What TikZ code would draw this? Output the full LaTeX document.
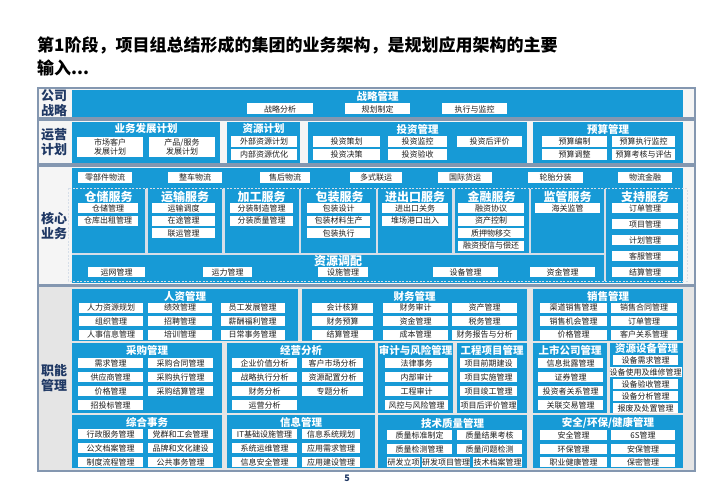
\documentclass[tikz,border=0pt]{standalone}
\usepackage{fontspec}
\setmainfont{Noto Sans CJK SC}
\definecolor{skyblu}{RGB}{23,154,214}
\definecolor{frmline}{RGB}{132,151,176}
\definecolor{lblcol}{RGB}{31,56,100}
\definecolor{itmtxt}{RGB}{30,30,30}
\definecolor{sepcol}{RGB}{214,222,232}

\begin{document}
\begin{tikzpicture}[x=1pt,y=-1pt,
  frm/.style={draw=frmline, line width=1.2pt, fill=gray!8},
  blk/.style={fill=skyblu},
  ttl/.style={text=white, font=\bfseries\fontsize{10.5}{11}\selectfont, inner sep=0pt},
  sttl/.style={text=white, font=\bfseries\fontsize{12}{12}\selectfont, inner sep=0pt},
  itm/.style={fill=white, text=itmtxt, font=\fontsize{8}{8.8}\selectfont, inner sep=0pt, minimum height=10, align=center},
  lbl/.style={text=lblcol, font=\bfseries\fontsize{13}{15}\selectfont, align=center, inner sep=0pt},
  sep/.style={draw=sepcol, line width=2.5pt},
  dsh/.style={draw=sepcol, line width=1pt, dash pattern=on 2pt off 1.5pt}]
\useasboundingbox (0,0) rectangle (722,500);

% heading
\node[anchor=west, align=left, inner sep=0pt, font=\bfseries\fontsize{17}{23}\selectfont] (head) at (37,56.5)
  {第1阶段，项目组总结形成的集团的业务架构，是规划应用架构的主要\\输入...};

% company strategy
\draw[frm] (38,88) rectangle (695,118);
\node[lbl] (lb1) at (54,103) {公司\\战略};
\fill[blk] (72,90) rectangle (683,117);
\node[ttl] (stg) at (377.5,96.5) {战略管理};
\foreach \cx/\cy/\w/\txt [count=\i] in {280/109/66/战略分析, 377.5/109/65/规划制定, 474.5/109/65/执行与监控}
  \node[itm, minimum width=\w, minimum height=11] (stg\i) at (\cx,\cy) {\txt};

% operation planning
\draw[frm] (38,120) rectangle (695,164);
\node[lbl] (lb2) at (54,142) {运营\\计划};
\fill[blk] (72,122) rectangle (220,163);
\node[ttl] (bdp) at (146,129) {业务发展计划};
\foreach \cx/\cy/\w/\txt [count=\i] in {110/147/66/{市场客户\\发展计划}, 182/147/66/{产品/服务\\发展计划}}
  \node[itm, minimum width=\w, minimum height=20] (bdp\i) at (\cx,\cy) {\txt};
\fill[blk] (227,122) rectangle (300,163);
\node[ttl] (rsp) at (263.5,129) {资源计划};
\foreach \cx/\cy/\w/\txt [count=\i] in {264/141/66/外部资源计划, 264/154.5/66/内部资源优化}
  \node[itm, minimum width=\w, minimum height=11] (rsp\i) at (\cx,\cy) {\txt};
\fill[blk] (308,122) rectangle (527,163);
\node[ttl] (inv) at (417.5,129) {投资管理};
\foreach \cx/\cy/\w/\txt [count=\i] in {346.5/141/67/投资策划, 417.5/141/59/投资监控, 489.5/141/65/投资后评价,
    346.5/154.5/67/投资决策, 417.5/154.5/59/投资验收}
  \node[itm, minimum width=\w, minimum height=11] (inv\i) at (\cx,\cy) {\txt};
\fill[blk] (533,122) rectangle (683,163);
\node[ttl] (bud) at (608,129) {预算管理};
\foreach \cx/\cy/\w/\txt [count=\i] in {574.5/141/65/预算编制, 643.5/141/63/预算执行监控,
    574.5/154.5/65/预算调整, 643.5/154.5/63/预算考核与评估}
  \node[itm, minimum width=\w, minimum height=11] (bud\i) at (\cx,\cy) {\txt};

% core business
\draw[frm] (38,166) rectangle (695,285);
\node[lbl] (lb3) at (54,226) {核心\\业务};
\fill[blk] (72,168) rectangle (683,283);
\foreach \cx/\w/\txt [count=\i] in {105/54/零部件物流, 195/54/整车物流, 285/50/售后物流, 376/52/多式联运,
    465/54/国际货运, 555.5/55/轮胎分装, 645/54/物流金融}
  \node[itm, minimum width=\w, minimum height=11] (lgs\i) at (\cx,177.5) {\txt};
\foreach \sx in {146.5,223.5,300,377,453.5,530}
  \draw[sep] (\sx,189) -- (\sx,253.5);
\draw[sep] (605,189) -- (605,281);
\draw[sep] (72,254) -- (605,254);
\draw[dsh] (68,188) rectangle (687,281);
\foreach \cx/\txt [count=\i] in {108.5/仓储服务, 185/运输服务, 261.5/加工服务, 339.5/包装服务,
    415/进出口服务, 491.5/金融服务, 567.5/监管服务, 645/支持服务}
  \node[sttl] (svc\i) at (\cx,197) {\txt};
\foreach \cx/\cy/\w/\txt [count=\i] in {108/208/60/仓储管理, 108/220.5/60/仓库出租管理,
    183.5/208/63/运输调度, 183.5/220.5/63/在途管理, 183.5/233/63/联运管理,
    261.5/208/63/分装制造管理, 261.5/220.5/63/分装质量管理,
    338.5/208/63/包装设计, 338.5/220.5/63/包装材料生产, 338.5/233/63/包装执行,
    415/208/66/进出口关务, 415/220.5/66/堆场港口出入,
    491/208/66/融资协议, 491/220.5/66/资产控制, 491/233/66/质押物移交, 491/245.5/66/融资授信与偿还,
    567.5/208/65/海关监管,
    645/208/66/订单管理, 645/224/66/项目管理, 645/240/66/计划管理, 645/256/66/客服管理, 645/272/66/结算管理}
  \node[itm, minimum width=\w] (srv\i) at (\cx,\cy) {\txt};
\node[sttl] (rda) at (338,261) {资源调配};
\foreach \cx/\w/\txt [count=\i] in {116.5/57/运网管理, 227.5/49/运力管理, 343/50/设施管理, 465.5/65/设备管理, 562.5/65/资金管理}
  \node[itm, minimum width=\w] (rda\i) at (\cx,272) {\txt};

% function management
\draw[frm, fill=gray!20] (38,286) rectangle (695,471);
\node[lbl] (lb4) at (54,378) {职能\\管理};
\fill[blk] (72,289) rectangle (298,341);
\node[ttl] (hrm) at (185,296) {人资管理};
\foreach \cx/\cy/\txt [count=\i] in {111/307.5/人力资源规划, 180/307.5/绩效管理, 252.5/307.5/员工发展管理,
    111/321/组织管理, 180/321/招聘管理, 252.5/321/薪酬福利管理,
    111/334.5/人事信息管理, 180/334.5/培训管理, 252.5/334.5/日常事务管理}
  \node[itm, minimum width=64] (hrm\i) at (\cx,\cy) {\txt};
\fill[blk] (302,289) rectangle (527,341);
\node[ttl] (fin) at (414.5,296) {财务管理};
\foreach \cx/\cy/\w/\txt [count=\i] in {342.5/307.5/61/会计核算, 415.5/307.5/65/财务审计, 484.5/307.5/65/资产管理,
    342.5/321/61/财务预算, 415.5/321/65/资金管理, 484.5/321/65/税务管理,
    342.5/334.5/61/结算管理, 415.5/334.5/65/成本管理, 484.5/334.5/65/财务报告与分析}
  \node[itm, minimum width=\w] (fin\i) at (\cx,\cy) {\txt};
\fill[blk] (533,289) rectangle (683,341);
\node[ttl] (sal) at (608,296) {销售管理};
\foreach \cx/\cy/\w/\txt [count=\i] in {573.5/307.5/67/渠道销售管理, 644/307.5/66/销售合同管理,
    573.5/321/67/销售机会管理, 644/321/66/订单管理,
    573.5/334.5/67/价格管理, 644/334.5/66/客户关系管理}
  \node[itm, minimum width=\w] (sal\i) at (\cx,\cy) {\txt};

\fill[blk] (72,343) rectangle (222,413);
\node[ttl] (pur) at (147,350) {采购管理};
\foreach \cx/\cy/\txt [count=\i] in {110.5/363/需求管理, 180.5/363/采购合同管理,
    110.5/377/供应商管理, 180.5/377/采购执行管理,
    110.5/391/价格管理, 180.5/391/采购结算管理, 110.5/405/招投标管理}
  \node[itm, minimum width=65] (pur\i) at (\cx,\cy) {\txt};
\fill[blk] (227,343) rectangle (375,413);
\node[ttl] (ana) at (301,350) {经营分析};
\foreach \cx/\cy/\w/\txt [count=\i] in {264.5/363/65/企业价值分析, 332.5/363/61/客户市场分析,
    264.5/377/65/战略执行分析, 332.5/377/61/资源配置分析,
    264.5/391/65/财务分析, 332.5/391/61/专题分析, 264.5/405/65/运营分析}
  \node[itm, minimum width=\w] (ana\i) at (\cx,\cy) {\txt};
\fill[blk] (378,343) rectangle (453,413);
\node[ttl] (aud) at (415.5,350) {审计与风险管理};
\foreach \cy/\txt [count=\i] in {363/法律事务, 377/内部审计, 391/工程审计, 405/风控与风险管理}
  \node[itm, minimum width=63] (aud\i) at (416.5,\cy) {\txt};
\fill[blk] (457,343) rectangle (527,413);
\node[ttl] (prj) at (492,350) {工程项目管理};
\foreach \cy/\txt [count=\i] in {363/项目前期建设, 377/项目实施管理, 391/项目竣工管理, 405/项目后评价管理}
  \node[itm, minimum width=57] (prj\i) at (488.5,\cy) {\txt};
\fill[blk] (533,343) rectangle (607,413);
\node[ttl] (lst) at (570,350) {上市公司管理};
\foreach \cy/\txt [count=\i] in {363/信息批露管理, 377/证券管理, 391/投资者关系管理, 405/关联交易管理}
  \node[itm, minimum width=65] (lst\i) at (570.5,\cy) {\txt};
\fill[blk] (610,343) rectangle (683,413);
\node[ttl] (eqp) at (646.5,348) {资源设备管理};
\foreach \cy/\txt [count=\i] in {360/设备需求管理, 372/设备使用及维修管理, 384/设备验收管理, 396/设备分析管理, 408/报废及处置管理}
  \node[itm, minimum width=65] (eqp\i) at (645.5,\cy) {\txt};

\fill[blk] (72,415) rectangle (222,468);
\node[ttl] (gen) at (147,422) {综合事务};
\foreach \cx/\cy/\txt [count=\i] in {110.5/434/行政服务管理, 180.5/434/党群和工会管理,
    110.5/448/公文档案管理, 180.5/448/品牌和文化建设,
    110.5/462/制度流程管理, 180.5/462/公共事务管理}
  \node[itm, minimum width=65] (gen\i) at (\cx,\cy) {\txt};
\fill[blk] (227,415) rectangle (375,468);
\node[ttl] (itm) at (301,422) {信息管理};
\foreach \cx/\cy/\w/\txt [count=\i] in {264.5/434/65/IT基础设施管理, 331/434/58/信息系统规划,
    264.5/448/65/系统运维管理, 331/448/58/应用需求管理,
    264.5/462/65/信息安全管理, 331/462/58/应用建设管理}
  \node[itm, minimum width=\w] (inf\i) at (\cx,\cy) {\txt};
\fill[blk] (378,415) rectangle (527,468);
\node[ttl] (tqm) at (452.5,423) {技术质量管理};
\foreach \cx/\cy/\w/\txt [count=\i] in {419.5/435/65/质量标准制定, 489.5/435/65/质量结果考核,
    419.5/449/65/质量检测管理, 489.5/449/65/质量问题检测,
    403.5/462/33/研发立项, 446/462/48/研发项目管理, 497.5/462/49/技术档案管理}
  \node[itm, minimum width=\w] (tqm\i) at (\cx,\cy) {\txt};
\fill[blk] (533,415) rectangle (683,468);
\node[ttl] (she) at (608,423) {安全/环保/健康管理};
\foreach \cx/\cy/\w/\txt [count=\i] in {573.5/435/67/安全管理, 643/435/64/6S管理,
    573.5/449/67/环保管理, 643/449/64/安保管理,
    573.5/462/67/职业健康管理, 643/462/64/保密管理}
  \node[itm, minimum width=\w] (she\i) at (\cx,\cy) {\txt};

% page number
\node[text=lblcol, font=\bfseries\fontsize{9}{9}\selectfont, inner sep=0pt] (pg) at (347,478) {5};
\end{tikzpicture}
\end{document}
